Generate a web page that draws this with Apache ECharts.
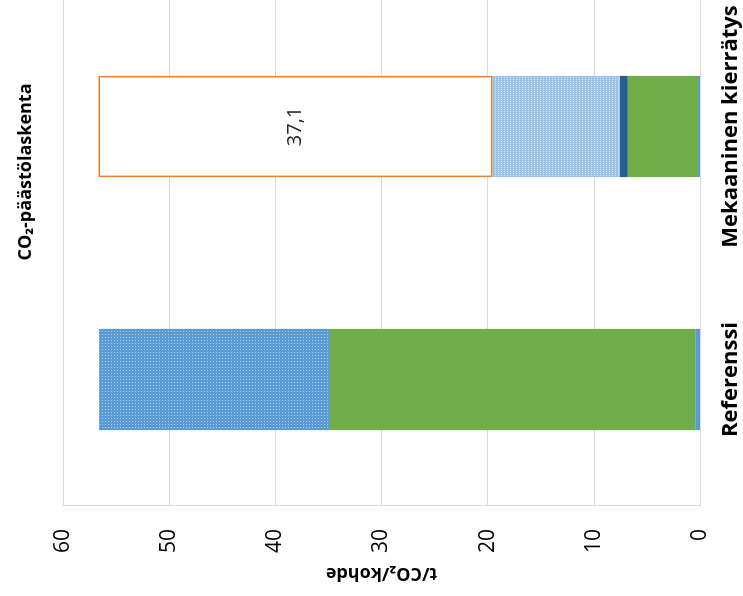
<!DOCTYPE html>
<html>
<head>
<meta charset="utf-8">
<script src="https://cdn.jsdelivr.net/npm/echarts@6/dist/echarts.min.js"></script>
<style>
html, body { margin: 0; padding: 0; background: #fff; overflow: hidden; }
#wrap { position: absolute; left: 0; top: 0; width: 743px; height: 596px; overflow: hidden; }
#chart { position: absolute; left: 0; top: 0; width: 596px; height: 743px;
  transform-origin: 0 0; transform: translate(0px, 596px) rotate(-90deg); }
</style>
</head>
<body>
<div id="wrap"><div id="chart"></div></div>
<script>
// ---- data ----
const categories = ['Referenssi', 'Mekaaninen kierrätys'];
const baseBlue    = [0.45, 0.2];   // thin blue segment
const greenPart   = [34.4, 6.6];
const darkBlue    = [0, 0.75];
const lightDotted = [0, 12.0];
const blueDotted  = [21.75, 0];
const orangeBox   = [0, 37.1];
const valueTicks  = { min: 0, max: 60, interval: 10 };
const titleText = 'CO₂-päästölaskenta';
const axisName = 't/CO₂/kohde';

const chart = echarts.init(document.getElementById('chart'), null, { renderer: 'canvas', width: 596, height: 743 });

function seg(name, data, color, extra) {
  return Object.assign({
    name: name, type: 'bar', stack: 'total',
    data: data.map(function (v) { return v === 0 ? null : v; }),
    barWidth: '40%',
    itemStyle: { color: color },
    emphasis: { disabled: true }
  }, extra || {});
}

const option = {
  animation: false,
  backgroundColor: '#fff',
  textStyle: { fontFamily: 'Open Sans' },
  grid: { left: 90, right: 0, top: 63, bottom: 43, containLabel: false },
  xAxis: {
    type: 'category', data: categories,
    axisLine: { show: true, lineStyle: { color: '#D9D9D9', width: 1 } },
    axisTick: { show: false },
    axisLabel: { color: '#000', fontFamily: 'Open Sans', fontWeight: 'bold', fontSize: 22, margin: 20, interval: 0 }
  },
  yAxis: {
    type: 'value', min: valueTicks.min, max: valueTicks.max, interval: valueTicks.interval,
    axisLine: { show: true, lineStyle: { color: '#D9D9D9', width: 1 } },
    axisTick: { show: false },
    splitLine: { show: true, lineStyle: { color: '#D9D9D9', width: 1 } },
    axisLabel: { color: '#000', fontFamily: 'Open Sans', fontSize: 21, margin: 23 },
    name: axisName, nameLocation: 'middle', nameGap: 55, nameRotate: 90,
    nameTextStyle: { color: '#000', fontFamily: 'Open Sans', fontWeight: 'bold', fontSize: 18 }
  },
  graphic: [{
    type: 'text', x: 424, y: 26,
    style: { text: titleText, fill: '#000', font: 'bold 18px "Open Sans"', align: 'center', verticalAlign: 'middle' }
  }],
  series: [
    seg('s1', baseBlue, '#5B9BD5'),
    seg('s2', greenPart, '#70AD47'),
    seg('s3', darkBlue, '#255E91'),
    seg('s4', lightDotted, '#9DC3E6', { itemStyle: { color: '#9DC3E6', decal: { symbol: 'rect', symbolSize: 1, dashArrayX: [1, 1], dashArrayY: [1, 2], color: 'rgba(255,255,255,0.55)' } } }),
    seg('s5', blueDotted, '#5B9BD5', { itemStyle: { color: '#5B9BD5', decal: { symbol: 'rect', symbolSize: 1, dashArrayX: [1, 2], dashArrayY: [1, 2], color: 'rgba(255,255,255,0.5)' } } }),
    seg('s6', orangeBox, '#FFFFFF', {
      itemStyle: { color: '#FFFFFF', borderColor: '#ED7D31', borderWidth: 1.5 },
      label: {
        show: true, position: 'inside', color: '#262626', fontFamily: 'Open Sans', fontSize: 20,
        formatter: function (p) { return p.value ? String(p.value).replace('.', ',') : ''; }
      }
    })
  ]
};
chart.setOption(option);
</script>
</body>
</html>
